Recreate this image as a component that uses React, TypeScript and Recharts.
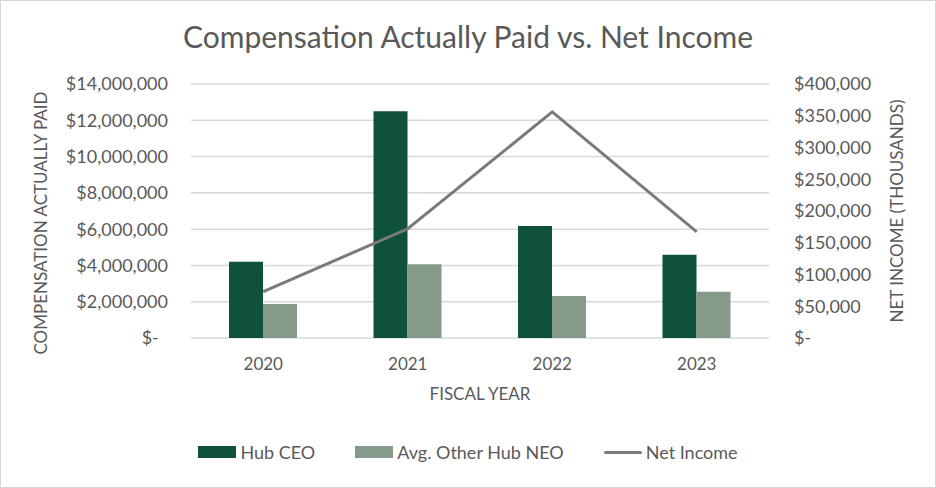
import { ComposedChart, Bar, Line, XAxis, YAxis, CartesianGrid, Legend } from 'recharts';

const years = ['2020', '2021', '2022', '2023'];
const hubCeo = [4200000, 12500000, 6180000, 4590000];
const avgOtherNeo = [1880000, 4060000, 2320000, 2550000];
const netIncome = [73000, 172000, 356000, 167000];

const leftTicks = [0, 2000000, 4000000, 6000000, 8000000, 10000000, 12000000, 14000000];
const rightTicks = [0, 50000, 100000, 150000, 200000, 250000, 300000, 350000, 400000];

const FONT = 'Lato, "Open Sans", sans-serif';
const TEXT = '#595959';

const fmt = (pad: string) => (v: number) =>
  v === 0 ? '$-' + pad : '$' + v.toLocaleString('en-US');

const legendItems = [
  { name: 'Hub CEO', color: '#0e523a', kind: 'box' },
  { name: 'Avg. Other Hub NEO', color: '#869a89', kind: 'box' },
  { name: 'Net Income', color: '#7a7a7d', kind: 'line' },
];

const ChartLegend = () => (
  <div style={{ display: 'flex', justifyContent: 'center', gap: 40, fontFamily: FONT, fontSize: 18, color: TEXT }}>
    {legendItems.map((it) => (
      <div key={it.name} style={{ display: 'flex', alignItems: 'center', gap: 4 }}>
        {it.kind === 'box' ? (
          <span style={{ display: 'inline-block', width: 38, height: 12, background: it.color }} />
        ) : (
          <span style={{ display: 'inline-block', width: 38, height: 3, background: it.color, borderRadius: 2 }} />
        )}
        <span>{it.name}</span>
      </div>
    ))}
  </div>
);

const App = () => {
  const data = years.map((year, i) => ({
    year,
    ceo: hubCeo[i],
    neo: avgOtherNeo[i],
    income: netIncome[i],
  }));

  return (
    <div style={{ position: 'absolute', left: 0, top: 0, width: 934, height: 486, border: '1px solid #d9d9d9', background: '#fff' }}>
      <div style={{ position: 'absolute', left: 0, top: 17, width: 934, textAlign: 'center', fontFamily: FONT, fontSize: 30, color: TEXT }}>
        Compensation Actually Paid vs. Net Income
      </div>
      <ComposedChart width={934} height={486} data={data} margin={{ top: 83, right: 0, left: 0, bottom: 69 }} barGap={0}>
        <CartesianGrid yAxisId="left" vertical={false} stroke="#d9d9d9" strokeWidth={1.5} />
        <XAxis
          dataKey="year"
          height={80}
          axisLine={false}
          tickLine={false}
          tickSize={0}
          tickMargin={20}
          tick={{ fill: TEXT, fontSize: 17, fontFamily: FONT }}
          label={{ value: 'FISCAL YEAR', position: 'insideTop', offset: 50, fill: TEXT, fontSize: 17, fontFamily: FONT }}
        />
        <YAxis
          yAxisId="left"
          width={190}
          domain={[0, 14000000]}
          ticks={leftTicks}
          axisLine={false}
          tickLine={false}
          tickSize={0}
          tickMargin={23}
          tickFormatter={fmt('\u00a0\u00a0')}
          tick={{ fill: TEXT, fontSize: 18, fontFamily: FONT }}
          label={{ value: 'COMPENSATION ACTUALLY PAID', angle: -90, position: 'center', dx: -55, dy: 12, fill: TEXT, fontSize: 17, fontFamily: FONT }}
        />
        <YAxis
          yAxisId="right"
          orientation="right"
          width={166}
          domain={[0, 400000]}
          ticks={rightTicks}
          axisLine={false}
          tickLine={false}
          tickSize={0}
          tickMargin={25}
          tickFormatter={fmt('')}
          tick={{ fill: TEXT, fontSize: 18, fontFamily: FONT, textAnchor: 'start' }}
          label={{ value: 'NET INCOME (THOUSANDS)', angle: -90, position: 'center', dx: 45, fill: TEXT, fontSize: 17, fontFamily: FONT }}
        />
        <Bar yAxisId="left" dataKey="ceo" name="Hub CEO" fill="#0e523a" barSize={34} isAnimationActive={false} />
        <Bar yAxisId="left" dataKey="neo" name="Avg. Other Hub NEO" fill="#869a89" barSize={34} isAnimationActive={false} />
        <Line yAxisId="right" type="linear" dataKey="income" name="Net Income" stroke="#7a7a7d" strokeWidth={3} dot={false} isAnimationActive={false} />
        <Legend verticalAlign="middle" align="center" wrapperStyle={{ top: 440, left: 0, width: 934 }} content={() => <ChartLegend />} />
      </ComposedChart>
    </div>
  );
};

export default App;
